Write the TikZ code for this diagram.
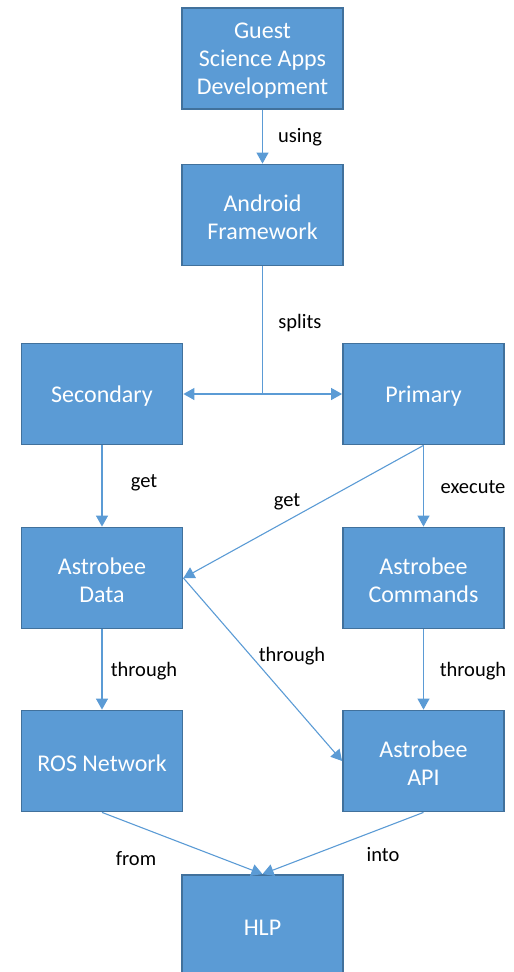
\documentclass[tikz,border=0pt]{standalone}
\usepackage{fontspec}
\setmainfont{Carlito}
\usetikzlibrary{arrows.meta}
\definecolor{boxfill}{HTML}{5B9BD5}
\definecolor{boxline}{HTML}{41719C}
\definecolor{arrowc}{HTML}{5B9BD5}
\newcommand{\boxtxt}[1]{\raisebox{-2.5pt}[\height][\depth]{\parbox{155pt}{\centering #1}}}
\begin{document}
\begin{tikzpicture}[x=1pt,y=-1pt,
  box/.style={draw=boxline,line width=1.8pt,fill=boxfill,minimum width=161pt,minimum height=101pt,
    text=white,align=center,font=\fontsize{24}{28}\selectfont,inner sep=0pt},
  conn/.style={draw=arrowc,line width=1.1pt},
  arr/.style={conn,-{Triangle[length=11pt,width=12pt]}},
  lbl/.style={font=\fontsize{20.5}{24}\selectfont,text=black,inner sep=0pt}]
\useasboundingbox (0,0) rectangle (514,972);
\node[box] (guest) at (262.5,58.5) {\boxtxt{Guest\\Science Apps\\Development}};
\node[box] (android) at (262.5,215) {\boxtxt{Android\\Framework}};
\node[box] (sec) at (102,394) {\boxtxt{Secondary}};
\node[box] (prim) at (423.5,394) {\boxtxt{Primary}};
\node[box] (data) at (102,578) {\boxtxt{Astrobee\\Data}};
\node[box] (cmd) at (423.5,578) {\boxtxt{Astrobee\\Commands}};
\node[box] (ros) at (102,761) {\boxtxt{ROS Network}};
\node[box] (api) at (423.5,761) {\boxtxt{Astrobee\\API}};
\node[box] (hlp) at (262.5,925.5) {\boxtxt{HLP}};
\coordinate (split) at (android.south |- sec.east);
\draw[arr] (guest) -- (android);
\draw[conn] (android) -- (split);
\draw[arr] (split) -- (sec.east);
\draw[arr] (split) -- (prim.west);
\draw[arr] (sec) -- (data);
\draw[arr] (prim.south) -- (data.east);
\draw[arr] (prim) -- (cmd);
\draw[arr] (data.east) -- (api.west);
\draw[arr] (data) -- (ros);
\draw[arr] (cmd) -- (api);
\draw[arr] (ros.south) -- (hlp.north);
\draw[arr] (api.south) -- (hlp.north);
\node[lbl] (l1) at (300,137) {using};
\node[lbl] (l2) at (300,323) {splits};
\node[lbl] (l3) at (144,483) {get};
\node[lbl] (l4) at (287,502) {get};
\node[lbl] (l5) at (473,487) {execute};
\node[lbl] (l6) at (144,671) {through};
\node[lbl] (l7) at (292,656) {through};
\node[lbl] (l8) at (473,671) {through};
\node[lbl] (l9) at (136,859) {from};
\node[lbl] (l10) at (383,855) {into};
\end{tikzpicture}
\end{document}
